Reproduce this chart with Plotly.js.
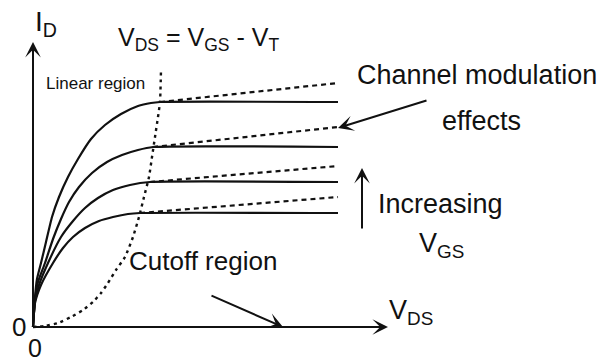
<!DOCTYPE html>
<html>
<head>
<meta charset="utf-8">
<script src="https://cdn.plot.ly/plotly-3.0.1.min.js"></script>
<style>html,body{margin:0;padding:0;background:#fff;}#chart{width:604px;height:364px;}</style>
</head>
<body>
<div id="chart"></div>
<script>
// Drain current curves (V_DS, I_D), for increasing V_GS
const vdsC1 = [0, 2, 4, 8, 13, 19, 26, 35, 45, 58, 72, 88, 105, 118, 127, 305];
const idC1  = [0, 30, 48, 64, 85, 110, 130, 150, 168, 188, 202, 213, 221, 224, 225, 225];
const vdsC2 = [0, 2, 5, 12, 20, 28, 36, 46, 59, 74, 89, 105, 120, 305];
const idC2  = [0, 28, 45, 64, 88, 108, 125, 140, 154, 165, 172, 177, 180, 180];
const vdsC3 = [0, 2, 6, 15, 28, 40, 52, 65, 80, 97, 117, 305];
const idC3  = [0, 26, 42, 64, 90, 106, 119, 129, 137, 142, 145, 145];
const vdsC4 = [0, 2, 8, 20, 30, 40, 52, 66, 80, 95, 107, 305];
const idC4  = [0, 24, 42, 64, 79, 90, 99, 106, 110, 113, 114, 114];

// Channel-length-modulation (dashed) continuations
const vdsM1 = [127, 305]; const idM1 = [225, 244];
const vdsM2 = [120, 305]; const idM2 = [180, 200];
const vdsM3 = [117, 305]; const idM3 = [145, 161];
const vdsM4 = [107, 305]; const idM4 = [114, 130];

// Boundary V_DS = V_GS - V_T (dotted)
const vdsB = [0, 12, 25, 38, 50, 60, 68, 75, 83, 92, 100, 106, 111, 116, 119, 122, 125, 127, 128];
const idB  = [0, 1, 4, 10, 17, 25, 34, 44, 57, 70, 90, 110, 130, 150, 170, 190, 210, 225, 257];

const FONT = "Liberation Sans, Arial, sans-serif";
const solid = {color: '#111', width: 2.2, shape: 'spline', smoothing: 0.5};
const dashed = {color: '#111', width: 2.2, dash: '5px,4px'};

const traces = [
  {x: vdsC1, y: idC1, mode: 'lines', line: solid},
  {x: vdsC2, y: idC2, mode: 'lines', line: solid},
  {x: vdsC3, y: idC3, mode: 'lines', line: solid},
  {x: vdsC4, y: idC4, mode: 'lines', line: solid},
  {x: vdsM1, y: idM1, mode: 'lines', line: dashed},
  {x: vdsM2, y: idM2, mode: 'lines', line: dashed},
  {x: vdsM3, y: idM3, mode: 'lines', line: dashed},
  {x: vdsM4, y: idM4, mode: 'lines', line: dashed},
  {x: vdsB, y: idB, mode: 'lines', line: {color: '#111', width: 2.4, dash: '3px,4px', shape: 'spline', smoothing: 0.5}}
];

function arrow(x0, y0, x1, y1, head) {
  return {x: x1, y: y1, ax: x0, ay: y0, xref: 'x', yref: 'y', axref: 'x', ayref: 'y',
    text: '', showarrow: true, arrowhead: head, arrowsize: 1.3, arrowwidth: 2, arrowcolor: '#111', standoff: 0};
}
function label(x, y, text, size) {
  return {x: x, y: y, xref: 'x', yref: 'y', text: text, showarrow: false,
    font: {family: FONT, size: size, color: '#111'}, xanchor: 'center', yanchor: 'middle'};
}

const layout = {
  width: 604, height: 364,
  margin: {l: 0, r: 0, t: 0, b: 0},
  paper_bgcolor: '#fff', plot_bgcolor: '#fff',
  showlegend: false,
  xaxis: {range: [-33, 571], visible: false, fixedrange: true},
  yaxis: {range: [-37, 327], visible: false, fixedrange: true},
  annotations: [
    arrow(0, 0, 0, 285, 3),
    arrow(0, 0, 355, 0, 3),
    arrow(395, 227, 305, 199, 3),
    arrow(329, 97, 329, 159, 3),
    arrow(177, 32, 250, 0, 3),
    label(13, 304, 'I<sub>D</sub>', 28),
    label(165, 288, 'V<sub>DS</sub> = V<sub>GS</sub> - V<sub>T</sub>', 25),
    label(62, 244, 'Linear region', 17),
    label(444, 252, 'Channel modulation', 27),
    label(448, 206, 'effects', 27),
    label(407, 123, 'Increasing', 27),
    label(408, 82, 'V<sub>GS</sub>', 27),
    label(170, 66, 'Cutoff region', 26),
    label(-14, 0, '0', 26),
    label(2, -21, '0', 25),
    label(378, 15, 'V<sub>DS</sub>', 27)
  ]
};

Plotly.newPlot('chart', traces, layout, {staticPlot: true, displayModeBar: false});
</script>
</body>
</html>
